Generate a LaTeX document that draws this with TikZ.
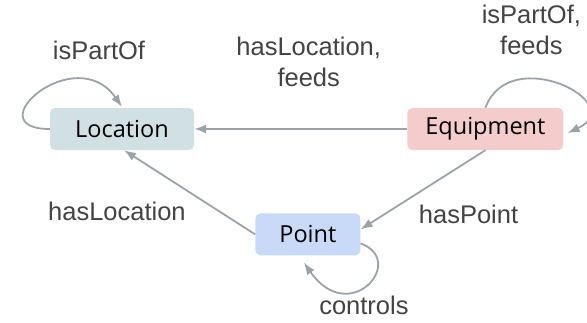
\documentclass[tikz,border=0pt]{standalone}
\usepackage{fontspec}
\setmainfont{Liberation Sans}
\newfontfamily\boxfont{Open Sans}
\usepackage{xcolor}
\usetikzlibrary{arrows.meta,positioning}
\definecolor{loccol}{HTML}{D0E0E3}
\definecolor{equipcol}{HTML}{F4CCCC}
\definecolor{pointcol}{HTML}{C9DAF8}
\definecolor{edgecol}{HTML}{9BA3A9}
\definecolor{labelcol}{HTML}{434343}

\begin{document}
\begin{tikzpicture}[
    box/.style={rectangle, rounded corners=5pt, minimum height=42pt, inner sep=0pt, align=center, text=black, font=\boxfont\fontsize{23.5}{28}\selectfont},
    lbl/.style={inner sep=0pt, align=center, text=labelcol, font=\fontsize{25.5}{31}\selectfont},
    line/.style={draw=edgecol, line width=1.8pt, -{Latex[length=12pt,width=9pt]}}
]
\useasboundingbox (0,0) rectangle (587pt,-322pt);

% Nodes
\node[box, fill=loccol, minimum width=144pt] (loc) at (122pt,-129pt) {Location};
\node[box, fill=equipcol, minimum width=156pt, right=213pt of loc] (equip) {Equipment};
\node[box, fill=pointcol, minimum width=105pt, below right=63pt and 61pt of loc] (pt) {Point};

% Connections
\path[line] (equip.west) -- node[lbl, above=41pt, xshift=8pt] (lbl-equip-loc) {hasLocation,\\feeds} (loc.east);
\path[line] (equip.south) -- node[lbl, anchor=north west, xshift=-5pt, yshift=-14pt] (lbl-equip-pt) {hasPoint} ([yshift=5pt]pt.east);
\path[line] (pt.west) -- node[lbl, below left=9pt and 3pt] (lbl-pt-loc) {hasLocation} ([xshift=2pt]loc.south);

% Self loops
\path[line] (loc.west) .. controls +(180:75pt) and +(125:82pt) .. ([yshift=1pt]loc.north);
\path[line] (equip.north) .. controls +(70:70pt) and +(25:70pt) .. ([xshift=4pt,yshift=-4pt]equip.east);
\path[line] ([yshift=-9pt]pt.east) .. controls +(-20:50pt) and +(-55:80pt) .. ([xshift=-4pt,yshift=-7pt]pt.south);

% Loop labels
\node[lbl, above=48pt of loc.north, xshift=-23pt] (lbl-loc) {isPartOf};
\node[lbl, above=53pt of equip.north, xshift=46pt] (lbl-equip) {isPartOf,\\feeds};
\node[lbl, below=40pt of pt.south, xshift=56pt] (lbl-pt) {controls};

\end{tikzpicture}
\end{document}
